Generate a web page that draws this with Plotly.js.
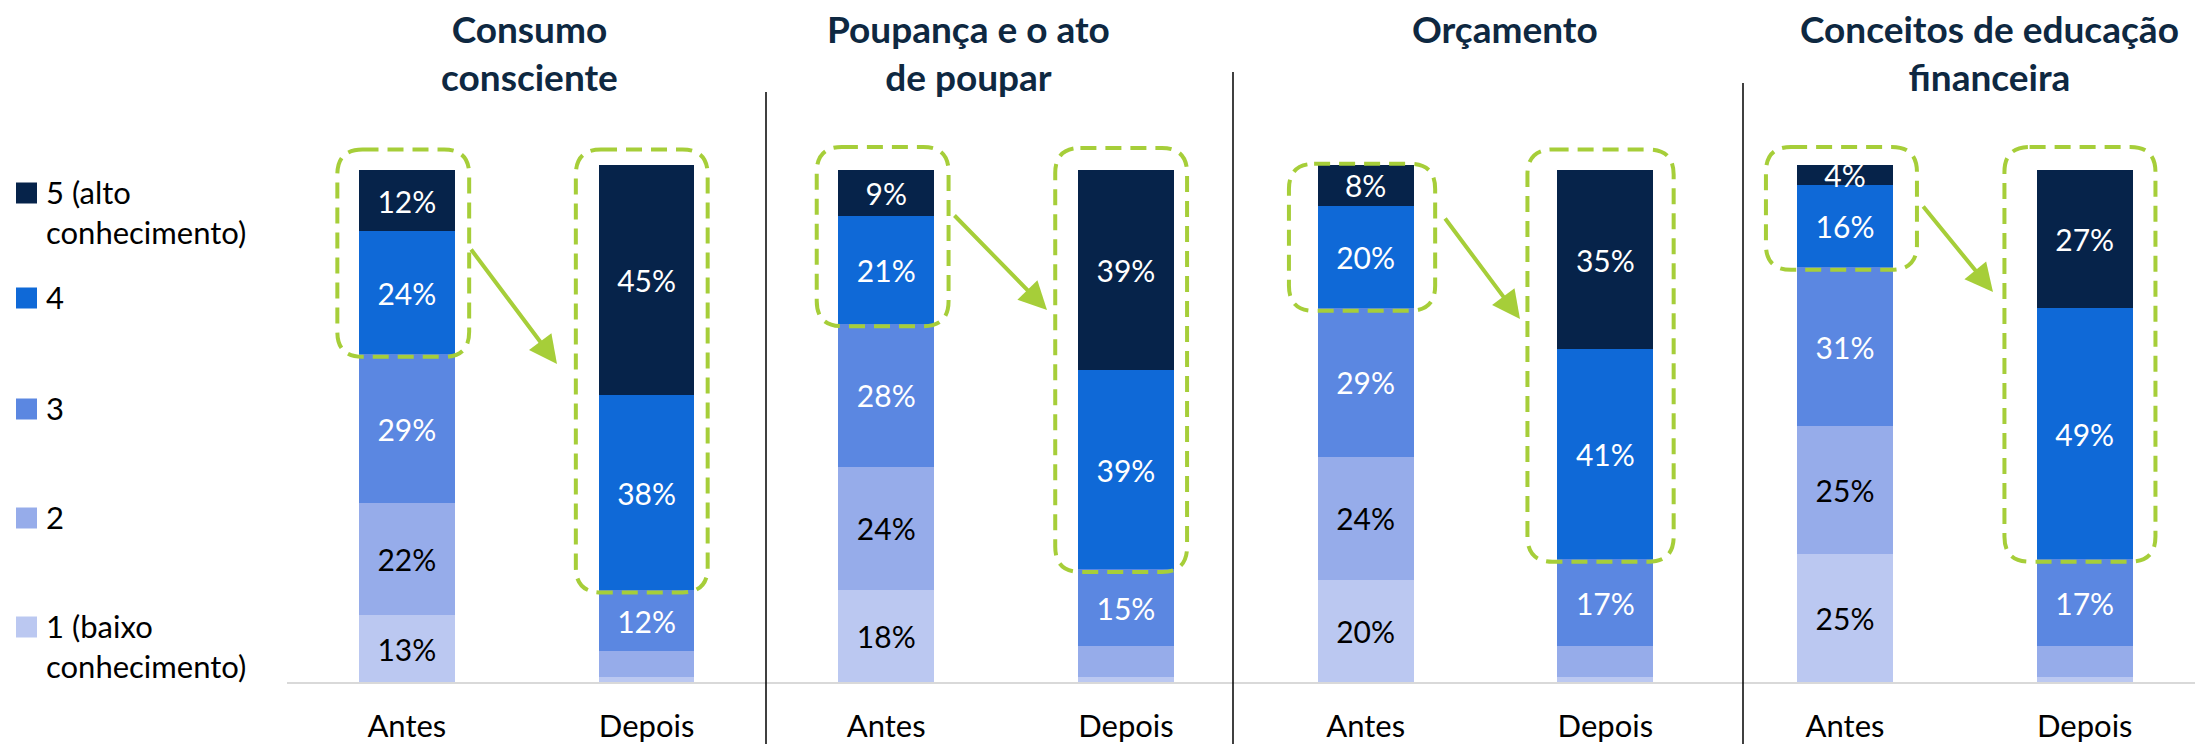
<!DOCTYPE html>
<html><head><meta charset="utf-8">
<script src="https://cdn.plot.ly/plotly-3.0.1.min.js"></script>
<style>html,body{margin:0;padding:0;background:#fff}</style>
</head><body><div id="chart" style="width:2195px;height:744px"></div>
<script>
// ---------- DATA ----------
const topics = ['Consumo<br>consciente', 'Poupança e o ato<br>de poupar', 'Orçamento', 'Conceitos de educação<br>financeira'];
const periods = ['Antes', 'Depois'];
const levelNames = ['1 (baixo<br>conhecimento)', '2', '3', '4', '5 (alto<br>conhecimento)'];
// order of bars: Consumo Antes, Consumo Depois, Poupança Antes, Poupança Depois, Orçamento Antes, Orçamento Depois, Conceitos Antes, Conceitos Depois
const level1 = [13, 1, 18, 1, 20, 1, 25, 1];
const level2 = [22, 5, 24, 6, 24, 6, 25, 6];
const level3 = [29, 12, 28, 15, 29, 17, 31, 17];
const level4 = [24, 38, 21, 39, 20, 41, 16, 49];
const level5 = [12, 45, 9, 39, 8, 35, 4, 27];

// ---------- STYLE ----------
const levels = [level1, level2, level3, level4, level5];
const colors = ['#BBC8F1', '#96ACEA', '#5B87E1', '#0F69D7', '#06234A'];
const labelColors = ['#000000', '#000000', '#FFFFFF', '#FFFFFF', '#FFFFFF'];
const green = '#A6CE39';
const FONT = 'Lato, "Open Sans", sans-serif';

const W = 2195, H = 744;
const M = {l: 287, r: 0, t: 100, b: 62};
const plotW = W - M.l - M.r, plotH = H - M.t - M.b;
const xr = [-0.5, 7.46];
const yr = [0, 113.67];
const pxX = px => (px - M.l) / plotW;            // pixel -> paper x
const pxY = py => (H - M.b - py) / plotH;        // pixel -> paper y
const dX = px => xr[0] + (px - M.l) / plotW * (xr[1] - xr[0]); // pixel -> data x
const dY = py => yr[0] + (H - M.b - py) / plotH * (yr[1] - yr[0]); // pixel -> data y

const xs = [];
const ticktext = [];
topics.forEach((t, i) => periods.forEach((p, j) => { xs.push(i * periods.length + j); ticktext.push(p); }));

const traces = levels.map((vals, li) => ({
  type: 'bar',
  x: xs,
  y: vals,
  name: levelNames[li],
  width: 0.4,
  marker: {color: colors[li], line: {width: 0}},
  text: vals.map((v, k) => (periods[k % periods.length] === 'Depois' && li <= 1) ? '' : v + '%'),
  texttemplate: '%{text}',
  textposition: 'inside',
  insidetextanchor: 'middle',
  textangle: 0,
  constraintext: 'none',
  cliponaxis: false,
  textfont: {family: FONT, size: 30, color: labelColors[li]},
  showlegend: false,
  hoverinfo: 'skip'
}));

const shapes = [];
const annotations = [];

// separators between topics
const sepX = [766, 1233, 1743];
const sepTop = [92, 72, 83];
sepX.forEach((px, i) => shapes.push({
  type: 'line', xref: 'x', yref: 'paper',
  x0: dX(px), x1: dX(px), y0: pxY(sepTop[i]), y1: pxY(H),
  line: {color: '#000000', width: 1.5}
}));

// topic titles
const titleX = [529, 968, 1505, 1989];
topics.forEach((t, i) => annotations.push({
  text: '<b>' + t + '</b>', xref: 'x', yref: 'paper',
  x: dX(titleX[i]), y: pxY(4), xanchor: 'center', yanchor: 'top',
  showarrow: false, align: 'center',
  font: {family: FONT, size: 37, color: '#0E2841'}
}));

// dashed rounded boxes
function roundedPath(x0, x1, y0, y1) {
  const rx = 0.105, ry = 4.9;
  return `M${x0 + rx},${y1} L${x1 - rx},${y1} Q${x1},${y1} ${x1},${y1 - ry} L${x1},${y0 + ry} Q${x1},${y0} ${x1 - rx},${y0} L${x0 + rx},${y0} Q${x0},${y0} ${x0},${y0 + ry} L${x0},${y1 - ry} Q${x0},${y1} ${x0 + rx},${y1} Z`;
}
const boxHalf = [0.275, 0.275, 0.305, 0.315];
const boxTop = [[104, 104], [104.5, 104.3], [101.2, 104], [104.5, 104.5]];
// arrow tail / head positions (pixels)
const arrowTail = [[470, 248], [953, 214], [1444, 217], [1922, 205]];
const arrowHead = [[557, 364], [1047, 310], [1520, 319], [1993, 292]];
topics.forEach((t, i) => {
  periods.forEach((p, j) => {
    const k = i * periods.length + j;
    const bottom = level1[k] + level2[k] + level3[k];
    const cx = xs[k] - (j === 0 ? 0.015 : 0.02);
    shapes.push({
      type: 'path', xref: 'x', yref: 'y',
      path: roundedPath(cx - boxHalf[i], cx + boxHalf[i], bottom - 0.5, boxTop[i][j]),
      line: {color: green, width: 4, dash: '16px,9px'},
      fillcolor: 'rgba(0,0,0,0)'
    });
  });
  annotations.push({
    text: '', showarrow: true, xref: 'x', yref: 'y', axref: 'x', ayref: 'y',
    x: dX(arrowHead[i][0]), y: dY(arrowHead[i][1]),
    ax: dX(arrowTail[i][0]), ay: dY(arrowTail[i][1]),
    arrowcolor: green, arrowwidth: 4, arrowhead: 2, arrowsize: 1.4, standoff: 0, startstandoff: 0
  });
});

// legend (manual, so markers match the reference size)
const legCenters = [627, 518, 409, 298, 193];
levelNames.forEach((n, li) => {
  const cy = legCenters[li];
  shapes.push({
    type: 'rect', xref: 'paper', yref: 'paper',
    x0: pxX(16), x1: pxX(37), y0: pxY(cy + 10.5), y1: pxY(cy - 10.5),
    fillcolor: colors[li], line: {width: 0}
  });
  annotations.push({
    text: n, xref: 'paper', yref: 'paper', x: pxX(44), y: pxY(cy - 22),
    xanchor: 'left', yanchor: 'top', align: 'left', showarrow: false,
    font: {family: FONT, size: 31, color: '#000000'}
  });
});

const layout = {
  width: W, height: H,
  margin: M,
  paper_bgcolor: '#FFFFFF', plot_bgcolor: '#FFFFFF',
  barmode: 'stack',
  showlegend: false,
  font: {family: FONT, size: 31, color: '#000000'},
  xaxis: {
    range: xr, tickmode: 'array', tickvals: xs, ticktext: ticktext,
    showgrid: false, zeroline: false, showline: true, linecolor: '#D9D9D9', linewidth: 2,
    ticks: '', ticklabelstandoff: 16,
    tickfont: {family: FONT, size: 31, color: '#000000'}, automargin: false
  },
  yaxis: {range: yr, visible: false, showgrid: false, zeroline: false, automargin: false},
  shapes: shapes,
  annotations: annotations
};

Plotly.newPlot('chart', traces, layout, {staticPlot: true, displayModeBar: false});
</script>
</body></html>
